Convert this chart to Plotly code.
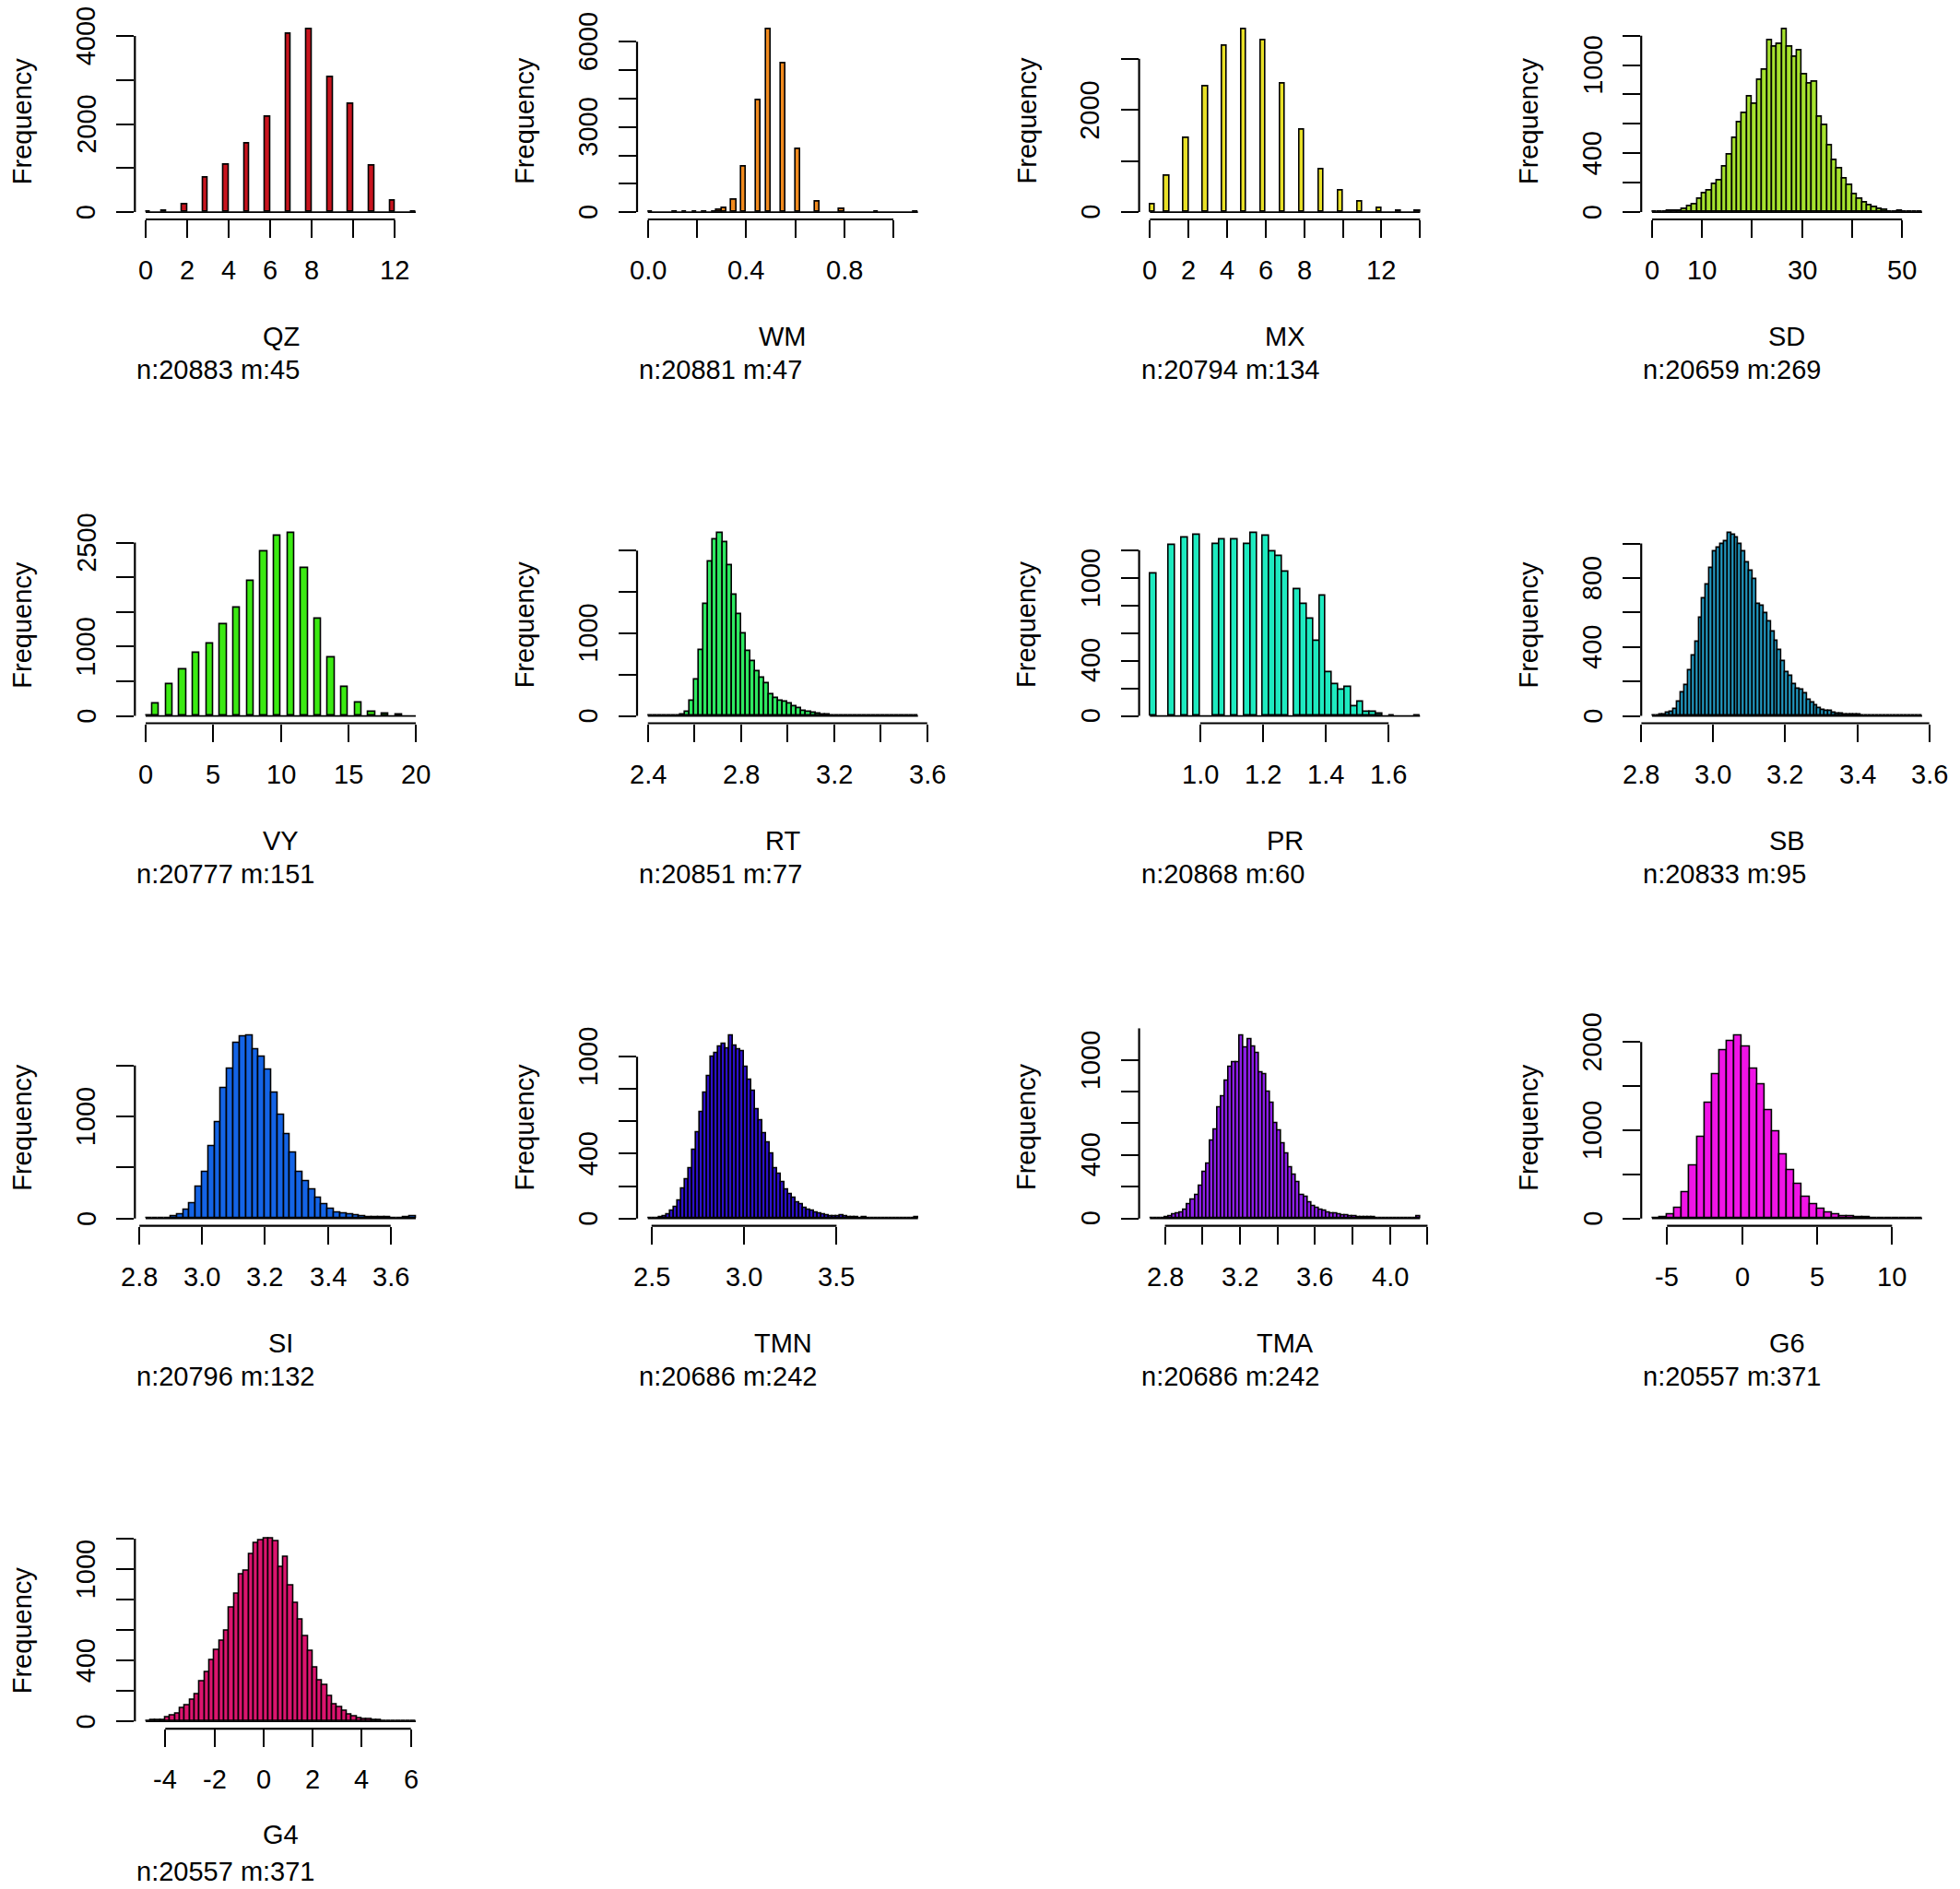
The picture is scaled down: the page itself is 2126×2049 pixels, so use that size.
import plotly.graph_objects as go

W, H = 2126, 2049

# ---------------- data ----------------
names = ["QZ", "WM", "MX", "SD", "VY", "RT", "PR", "SB", "SI", "TMN", "TMA", "G6", "G4"]
subs = ["n:20883 m:45", "n:20881 m:47", "n:20794 m:134", "n:20659 m:269",
        "n:20777 m:151", "n:20851 m:77", "n:20868 m:60", "n:20833 m:95",
        "n:20796 m:132", "n:20686 m:242", "n:20686 m:242", "n:20557 m:371",
        "n:20557 m:371"]
fills = ["#C8141E", "#F08A1E", "#E8E028", "#A6E22E", "#3BEA12", "#2EE860",
         "#1EEAC0", "#2298C0", "#1464E6", "#2C10C8", "#8C1EE6", "#F014E6", "#DC146E"]

# discrete-valued panels: left edge of each non-empty bin
QZ_bw = 0.25
QZ_left = [0, 0.75, 1.75, 2.75, 3.75, 4.75, 5.75, 6.75, 7.75, 8.75, 9.75, 10.75, 11.75, 12.75]
QZ_counts = [4, 30, 175, 783, 1084, 1559, 2154, 4049, 4154, 3063, 2448, 1063, 266, 3]
QZ_breaks = [0, 13]

WM_bw = 0.02
WM_left = [0.00, 0.10, 0.14, 0.18, 0.22, 0.26, 0.28, 0.30, 0.34, 0.38, 0.44, 0.48,
           0.54, 0.60, 0.68, 0.78, 0.92, 1.08]
WM_counts = [6, 5, 8, 8, 10, 12, 70, 130, 435, 1598, 3935, 6446,
             5250, 2228, 380, 109, 10, 10]
WM_breaks = [0, 1.1]

MX_bw = 0.25
MX_left = [0, 0.75, 1.75, 2.75, 3.75, 4.75, 5.75, 6.75, 7.75, 8.75, 9.75, 10.75,
           11.75, 12.75, 13.75]
MX_counts = [152, 712, 1442, 2453, 3256, 3579, 3365, 2520, 1619, 840, 426, 201, 79, 30, 18]
MX_breaks = [0, 14]

VY_bw = 0.5
VY_left = [0, 0.5, 1.5, 2.5, 3.5, 4.5, 5.5, 6.5, 7.5, 8.5, 9.5, 10.5, 11.5, 12.5,
           13.5, 14.5, 15.5, 16.5, 17.5, 18.5]
VY_counts = [10, 173, 463, 672, 912, 1045, 1326, 1557, 1944, 2375, 2602, 2638, 2131,
             1406, 845, 423, 187, 62, 27, 18]
VY_breaks = [0, 20]

PR_bw = 0.02
PR_left = [0.84, 0.90, 0.94, 0.98, 1.04, 1.06, 1.10, 1.14, 1.16, 1.20, 1.22, 1.24,
           1.26, 1.30, 1.32, 1.34, 1.36, 1.38, 1.40, 1.42, 1.44, 1.46, 1.48, 1.50,
           1.52, 1.54, 1.56, 1.60, 1.68]
PR_counts = [1033, 1235, 1289, 1313, 1244, 1278, 1280, 1244, 1324, 1306, 1188, 1155,
             1044, 918, 811, 706, 543, 872, 316, 227, 189, 212, 71, 100,
             31, 27, 16, 3, 5]
PR_breaks = [0.84, 1.70]

# continuous panels: first break, bin width, counts per bin
SD_start, SD_bw = 0, 1
SD_counts = [2, 3, 4, 6, 8, 10, 21, 42, 52, 90, 126, 147, 193, 216, 308, 392, 503, 608,
             671, 785, 734, 898, 969, 1171, 1127, 1141, 1244, 1127, 1055, 1097, 938, 871,
             887, 650, 594, 451, 352, 294, 231, 183, 120, 88, 63, 46, 31, 21, 13, 5, 4,
             8, 3, 2, 4, 2]

RT_start, RT_bw = 2.40, 0.02
RT_counts = [0, 0, 0, 0, 0, 0, 2, 15, 45, 186, 436, 801, 1348, 1870, 2138, 2212, 2100,
             1825, 1460, 1225, 994, 782, 659, 536, 466, 398, 261, 220, 186, 168, 149,
             119, 89, 63, 45, 34, 26, 19, 15, 8, 6, 5, 4, 3, 3, 2, 2, 2, 1, 1, 1, 1,
             1, 1, 0, 1, 1, 8]

SB_start, SB_bw = 2.83, 0.01
SB_counts = [2, 3, 5, 8, 18, 25, 39, 84, 137, 179, 262, 352, 430, 570, 682, 759, 855,
             954, 977, 998, 1013, 1061, 1052, 1036, 998, 954, 887, 839, 795, 650, 637,
             598, 548, 491, 437, 379, 316, 254, 230, 182, 155, 152, 129, 93, 75, 61,
             43, 34, 30, 27, 18, 12, 10, 8, 7, 6, 5, 5, 4, 4, 3, 3, 3, 2, 2, 2, 2, 2,
             1, 1, 1, 1, 1, 1, 3]

SI_start, SI_bw = 2.82, 0.02
SI_counts = [2, 2, 3, 6, 21, 42, 88, 151, 308, 456, 709, 942, 1274, 1464, 1720, 1781,
             1793, 1657, 1585, 1455, 1228, 1017, 830, 649, 459, 368, 287, 202, 136, 97,
             57, 51, 36, 27, 21, 15, 12, 9, 9, 6, 6, 12, 21]

TMN_start, TMN_bw = 2.48, 0.02
TMN_counts = [1, 2, 4, 8, 15, 27, 46, 70, 109, 185, 242, 312, 423, 531, 657, 775, 880,
              1000, 1023, 1061, 1080, 1051, 1131, 1070, 1046, 1032, 937, 855, 790, 676,
              604, 528, 467, 400, 309, 276, 227, 181, 150, 128, 99, 90, 65, 55, 46, 36,
              29, 23, 19, 15, 13, 13, 19, 13, 8, 6, 5, 4, 5, 4, 3, 3, 4, 3, 2, 3, 2,
              2, 3, 2, 2, 1, 8]

TMA_start, TMA_bw = 2.72, 0.02
TMA_counts = [3, 1, 2, 4, 8, 15, 24, 33, 37, 52, 91, 120, 149, 207, 295, 343, 489, 560,
              702, 770, 867, 954, 987, 987, 1153, 1076, 1128, 1084, 1041, 921, 909, 797,
              731, 599, 556, 475, 407, 324, 275, 227, 145, 134, 101, 78, 66, 56, 47, 37,
              33, 29, 23, 19, 19, 16, 14, 10, 8, 8, 6, 6, 5, 4, 4, 3, 3, 3, 4, 2, 2, 3,
              4, 15]

G6_start, G6_bw = -6, 0.5
G6_counts = [3, 14, 42, 123, 298, 595, 925, 1310, 1636, 1909, 2011, 2074, 1944, 1699,
             1520, 1226, 988, 725, 550, 392, 245, 158, 112, 70, 42, 28, 21, 14, 14, 7,
             3, 2, 2, 1, 1, 1]

G4_start, G4_bw = -4.8, 0.2
G4_counts = [4, 6, 6, 10, 26, 37, 53, 85, 104, 142, 175, 260, 321, 403, 470, 529, 596,
             748, 840, 966, 992, 1098, 1171, 1192, 1202, 1202, 1182, 1013, 1080, 895,
             777, 667, 561, 460, 352, 270, 240, 163, 114, 94, 71, 47, 31, 22, 16, 12, 8,
             6, 5, 4, 4, 3, 3, 2, 3]

# axis ticks and the labels R printed (others omitted for overlap)
x_ticks = [[0, 2, 4, 6, 8, 10, 12], [0, 0.2, 0.4, 0.6, 0.8, 1.0],
           [0, 2, 4, 6, 8, 10, 12, 14], [0, 10, 20, 30, 40, 50], [0, 5, 10, 15, 20],
           [2.4, 2.6, 2.8, 3.0, 3.2, 3.4, 3.6], [1.0, 1.2, 1.4, 1.6],
           [2.8, 3.0, 3.2, 3.4, 3.6], [2.8, 3.0, 3.2, 3.4, 3.6], [2.5, 3.0, 3.5],
           [2.8, 3.0, 3.2, 3.4, 3.6, 3.8, 4.0, 4.2], [-5, 0, 5, 10],
           [-4, -2, 0, 2, 4, 6]]
x_labels = [["0", "2", "4", "6", "8", "", "12"], ["0.0", "", "0.4", "", "0.8", ""],
            ["0", "2", "4", "6", "8", "", "12", ""], ["0", "10", "", "30", "", "50"],
            ["0", "5", "10", "15", "20"],
            ["2.4", "", "2.8", "", "3.2", "", "3.6"], ["1.0", "1.2", "1.4", "1.6"],
            ["2.8", "3.0", "3.2", "3.4", "3.6"], ["2.8", "3.0", "3.2", "3.4", "3.6"],
            ["2.5", "3.0", "3.5"],
            ["2.8", "", "3.2", "", "3.6", "", "4.0", ""], ["-5", "0", "5", "10"],
            ["-4", "-2", "0", "2", "4", "6"]]
y_ticks = [[0, 1000, 2000, 3000, 4000], [0, 1000, 2000, 3000, 4000, 5000, 6000],
           [0, 1000, 2000, 3000], [0, 200, 400, 600, 800, 1000, 1200],
           [0, 500, 1000, 1500, 2000, 2500], [0, 500, 1000, 1500, 2000],
           [0, 200, 400, 600, 800, 1000, 1200], [0, 200, 400, 600, 800, 1000],
           [0, 500, 1000, 1500], [0, 200, 400, 600, 800, 1000],
           [0, 200, 400, 600, 800, 1000, 1200], [0, 500, 1000, 1500, 2000],
           [0, 200, 400, 600, 800, 1000, 1200]]
y_labels = [["0", "", "2000", "", "4000"], ["0", "", "", "3000", "", "", "6000"],
            ["0", "", "2000", ""], ["0", "", "400", "", "", "1000", ""],
            ["0", "", "1000", "", "", "2500"], ["0", "", "1000", "", ""],
            ["0", "", "400", "", "", "1000", ""], ["0", "", "400", "", "800", ""],
            ["0", "", "1000", ""], ["0", "", "400", "", "", "1000"],
            ["0", "", "400", "", "", "1000", ""], ["0", "", "1000", "", "2000"],
            ["0", "", "400", "", "", "1000", ""]]

# ---------------- assemble bins ----------------
def cont(start, bw, counts):
    lefts = [start + i * bw for i in range(len(counts))]
    return lefts, counts, bw, [start, start + bw * len(counts)]

panels = [
    (QZ_left, QZ_counts, QZ_bw, QZ_breaks),
    (WM_left, WM_counts, WM_bw, WM_breaks),
    (MX_left, MX_counts, MX_bw, MX_breaks),
    cont(SD_start, SD_bw, SD_counts),
    (VY_left, VY_counts, VY_bw, VY_breaks),
    cont(RT_start, RT_bw, RT_counts),
    (PR_left, PR_counts, PR_bw, PR_breaks),
    cont(SB_start, SB_bw, SB_counts),
    cont(SI_start, SI_bw, SI_counts),
    cont(TMN_start, TMN_bw, TMN_counts),
    cont(TMA_start, TMA_bw, TMA_counts),
    cont(G6_start, G6_bw, G6_counts),
    cont(G4_start, G4_bw, G4_counts),
]

# ---------------- layout geometry (pixels) ----------------
col_left = [146.3, 691.0, 1235.6, 1780.2]
row_top = [23.7, 570.2, 1115.3, 1660.8]
PW, PH = 316.4, 214.3
FONT = dict(family="Liberation Sans, Arial, sans-serif", size=29, color="black")
LW = 2.2

def fx(px):
    return px / W

def fy(py):
    return 1 - py / H

fig = go.Figure()
annotations = []
shapes = []
layout = {}

for i, (lefts, counts, bw, brk) in enumerate(panels):
    k = i + 1
    sfx = "" if k == 1 else str(k)
    r, c = divmod(i, 4)
    L, T = col_left[c], row_top[r]
    B = T + PH
    xa, ya = "x" + sfx, "y" + sfx
    span = brk[1] - brk[0]
    ymax = max(counts)
    xlo = brk[0] - 0.04 * span
    xhi = brk[1] + 0.04 * span
    eps = span * 1e-4
    xlo = min(xlo, x_ticks[i][0] - eps)
    xhi = max(xhi, x_ticks[i][-1] + eps)

    centers = [lv + bw / 2 for lv in lefts]
    fig.add_trace(go.Bar(x=centers, y=counts, width=bw, xaxis=xa, yaxis=ya,
                         marker=dict(color=fills[i], line=dict(color="black", width=1.6)),
                         showlegend=False, hoverinfo="x+y"))
    fig.add_trace(go.Scatter(x=brk, y=[0, 0], mode="lines", xaxis=xa, yaxis=ya,
                             line=dict(color="black", width=1.7), showlegend=False,
                             hoverinfo="skip"))

    layout["xaxis" + sfx] = dict(
        domain=[fx(L), fx(L + PW)], anchor=ya, range=[xlo, xhi],
        tickvals=x_ticks[i], ticks="outside", ticklen=19, tickwidth=LW,
        tickcolor="black", showticklabels=False, showgrid=False, zeroline=False,
        showline=False, fixedrange=True)
    layout["yaxis" + sfx] = dict(
        domain=[fy(B), fy(T)], anchor=xa,
        range=[-0.04 * ymax, 1.04 * ymax],
        tickvals=y_ticks[i], ticks="outside", ticklen=19, tickwidth=LW,
        tickcolor="black", showticklabels=False, showgrid=False, zeroline=False,
        showline=False, fixedrange=True)

    # R-style axis lines that run only between the first and last tick
    shapes.append(dict(type="line", xref=xa, yref=ya + " domain",
                       x0=x_ticks[i][0], x1=x_ticks[i][-1], y0=0, y1=0,
                       line=dict(color="black", width=LW)))
    shapes.append(dict(type="line", xref=xa + " domain", yref=ya,
                       x0=0, x1=0, y0=y_ticks[i][0], y1=y_ticks[i][-1],
                       line=dict(color="black", width=LW)))

    for v, t in zip(x_ticks[i], x_labels[i]):
        if t:
            annotations.append(dict(text=t, xref=xa, x=v, yref="paper", y=fy(B + 55),
                                    xanchor="center", yanchor="middle", showarrow=False,
                                    font=FONT))
    for v, t in zip(y_ticks[i], y_labels[i]):
        if t:
            annotations.append(dict(text=t, xref="paper", x=fx(L - 53), yref=ya, y=v,
                                    xanchor="center", yanchor="middle", showarrow=False,
                                    textangle=-90, font=FONT))
    annotations.append(dict(text="Frequency", xref="paper", x=fx(L - 122),
                            yref="paper", y=fy(T + PH / 2), textangle=-90,
                            xanchor="center", yanchor="middle", showarrow=False, font=FONT))
    # keep the bottom row's two text lines inside the page without overlapping
    if B + 163 > H - 19:
        sub_y = H - 19
        title_y = sub_y - 40
    else:
        sub_y = B + 163
        title_y = B + 127
    annotations.append(dict(text=names[i], xref="paper", x=fx(L + PW / 2),
                            yref="paper", y=fy(title_y), xanchor="center",
                            yanchor="middle", showarrow=False, font=FONT))
    annotations.append(dict(text=subs[i], xref="paper", x=fx(L), yref="paper",
                            y=fy(sub_y), xanchor="left", yanchor="middle",
                            showarrow=False, font=FONT))

fig.update_layout(**layout)
fig.update_layout(width=W, height=H, margin=dict(l=0, r=0, t=0, b=0),
                  paper_bgcolor="white", plot_bgcolor="white", bargap=0,
                  annotations=annotations, shapes=shapes, font=FONT)

fig.write_html("out.html", config={"displayModeBar": False},
               post_script="document.body.style.margin='0px';")
